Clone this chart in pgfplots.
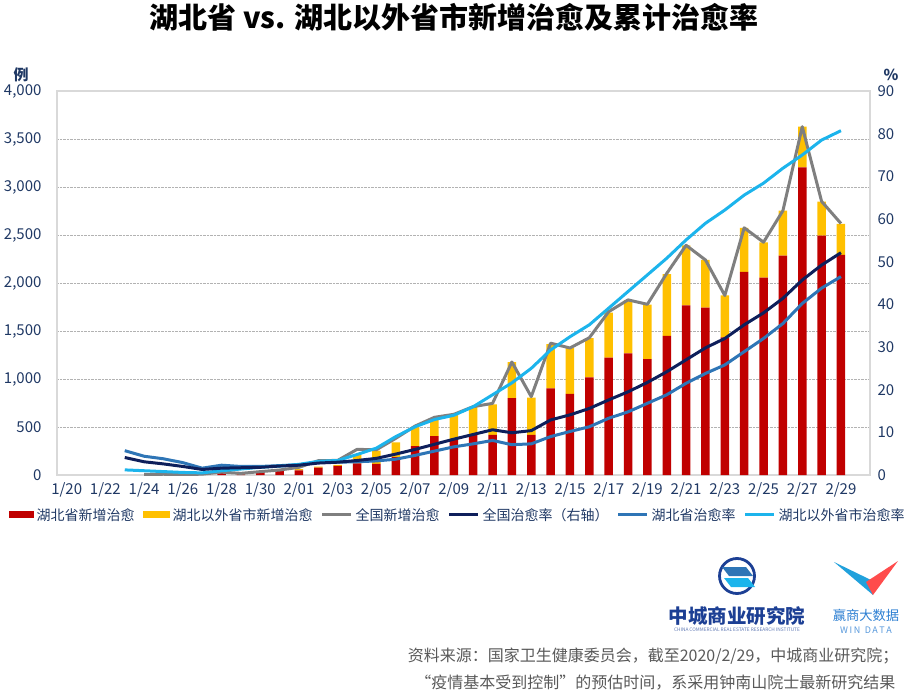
\documentclass[border=0pt]{standalone}
\usepackage{fontspec}
\setmainfont{Noto Sans CJK SC}
\usepackage{pgfplots}
\usepackage{pgfplotstable}
\pgfplotsset{compat=1.18}
\definecolor{hbred}{HTML}{C00000}
\definecolor{hbyel}{HTML}{FFC000}
\definecolor{gline}{HTML}{7F7F7F}
\definecolor{navy}{HTML}{0E1F5B}
\definecolor{hbblue}{HTML}{2E75B6}
\definecolor{ltblue}{HTML}{1CB4EC}
\definecolor{txt}{HTML}{1F3864}
\definecolor{framec}{HTML}{D9D9D9}
\definecolor{src}{HTML}{595959}
\definecolor{zcblue}{HTML}{1C3F94}
\definecolor{wsblue}{HTML}{2D7FD2}

\pgfplotstableread{
i red yel
8 22 3
9 6 5
10 28 5
11 45 8
12 47 14
13 76 12
14 96 10
15 120 90
16 115 140
17 185 155
18 302 200
19 406 175
20 368 257
21 417 290
22 417 320
23 800 377
24 417 390
25 903 460
26 844 478
27 1017 410
28 1222 470
29 1267 555
30 1208 567
31 1448 645
32 1767 626
33 1743 497
34 1434 436
35 2115 458
36 2056 366
37 2285 468
38 3205 423
39 2493 354
40 2292 323
}\bars

\pgfplotstableread{
i tot
4 4
5 8
6 3
7 9
8 30
9 17
10 35
11 52
12 80
13 149
14 152
15 267
16 263
17 382
18 510
19 601
20 632
21 712
22 746
23 1177
24 816
25 1373
26 1323
27 1430
28 1701
29 1824
30 1778
31 2100
32 2393
33 2240
34 1870
35 2575
36 2425
37 2753
38 3628
39 2850
40 2620
}\gray

\pgfplotstableread{
i nat hb out
3 4.1 5.7 1.2
4 3.1 4.4 1.0
5 2.6 3.8 0.8
6 2.0 2.9 0.6
7 1.3 1.6 0.5
8 1.6 2.3 1.0
9 1.7 2.0 1.4
10 1.8 2.0 1.8
11 2.1 2.2 2.1
12 2.3 2.4 2.5
13 2.8 3.0 3.2
14 3.0 3.0 3.4
15 3.4 3.1 4.8
16 3.9 3.3 6.3
17 4.9 3.7 9.0
18 6.0 4.6 11.3
19 7.2 5.6 13.0
20 8.4 6.6 14.0
21 9.5 7.3 16.0
22 10.6 8.1 18.8
23 9.9 7.1 21.6
24 10.4 7.3 25.0
25 12.9 9.0 29.3
26 14.1 10.2 32.4
27 15.6 11.3 35.2
28 17.6 13.3 39.1
29 19.5 14.8 43.0
30 21.7 16.8 46.9
31 24.2 18.8 50.8
32 27.0 21.5 55.1
33 29.8 23.8 59.0
34 32.0 25.8 62.1
35 35.2 28.9 65.6
36 38.0 32.0 68.4
37 41.4 35.5 71.9
38 45.7 40.2 75.0
39 49.2 43.8 78.5
40 52.1 46.5 80.7
}\rates

\newcommand{\fs}[1]{\fontsize{#1}{#1}\selectfont}

\pgfplotsset{
  common/.style={
    at={(57pt,-475pt)}, anchor=south west,
    scale only axis, width=813pt, height=384pt,
    xmin=-0.5, xmax=41.5,
    /pgf/number format/assume math mode=true,
  }
}

\begin{document}
\begin{tikzpicture}
\path[use as bounding box] (0pt,0pt) rectangle (908pt,-690pt);

% bars, left axis, grid
\begin{axis}[common,
  ymin=0, ymax=4000,
  ybar stacked, bar width=8.5pt,
  xtick={0,2,...,40},
  xticklabels={1/20,1/22,1/24,1/26,1/28,1/30,2/01,2/03,2/05,2/07,2/09,2/11,2/13,2/15,2/17,2/19,2/21,2/23,2/25,2/27,2/29},
  ytick={0,500,...,4000},
  scaled y ticks=false,
  /pgf/number format/1000 sep={,},
  ymajorgrids,
  grid style={densely dotted, color=black!30, line width=0.8pt},
  axis line style={draw=framec, line width=1.3pt},
  major tick length=0pt,
  xticklabel style={font=\fs{15pt}, color=txt, yshift=-4pt},
  yticklabel style={font=\fs{15pt}, color=txt, xshift=-12pt},
]
\addplot[fill=hbred, draw=none] table[x=i, y=red] {\bars};
\addplot[fill=hbyel, draw=none] table[x=i, y=yel] {\bars};
\end{axis}

% gray total line, left scale
\begin{axis}[common, hide axis, ymin=0, ymax=4000]
\addplot[gline, line width=3pt, line join=round] table[x=i, y=tot] {\gray};
\end{axis}

% rates, right axis
\begin{axis}[common,
  ymin=0, ymax=90,
  ytick={0,10,...,90},
  axis y line*=right, axis x line=none,
  y axis line style={draw=framec, line width=1.3pt},
  major tick length=0pt,
  yticklabel style={font=\fs{15pt}, color=txt, xshift=4pt},
  legend image code/.code={\draw[#1] (0pt,0pt) -- (29pt,0pt);},
  legend columns=6,
  legend style={at={(0.4915,-0.104)}, anchor=center, draw=none, fill=none,
    font=\fs{14pt}, text=txt, inner sep=0pt,
    nodes={inner sep=0pt},
    /tikz/every odd column/.append style={column sep=3pt},
    /tikz/every even column/.append style={column sep=8pt}},
]
\addlegendimage{fill=hbred, draw=none, legend image code/.code={\fill[hbred] (0pt,-3.5pt) rectangle (25pt,3.5pt);}}
\addlegendentry{湖北省新增治愈}
\addlegendimage{fill=hbyel, draw=none, legend image code/.code={\fill[hbyel] (0pt,-3.5pt) rectangle (27pt,3.5pt);}}
\addlegendentry{湖北以外省市新增治愈}
\addlegendimage{gline, line width=3pt}
\addlegendentry{全国新增治愈}
\addplot[hbblue, line width=3pt, line join=round, forget plot] table[x=i, y=hb] {\rates};
\addplot[ltblue, line width=3pt, line join=round, forget plot] table[x=i, y=out] {\rates};
\addplot[navy, line width=3pt, line join=round] table[x=i, y=nat] {\rates};
\addlegendentry{全国治愈率（右轴）}
\addlegendimage{hbblue, line width=3pt}
\addlegendentry{湖北省治愈率}
\addlegendimage{ltblue, line width=3pt}
\addlegendentry{湖北以外省市治愈率}
\end{axis}

% title and unit labels
\node[font=\bfseries\fs{29pt}, text=black] at (454pt,-17pt) {湖北省 vs. 湖北以外省市新增治愈及累计治愈率};
\node[font=\bfseries\fs{15pt}, text=txt] at (21pt,-75pt) {例};
\node[font=\bfseries\fs{15pt}, text=txt] at (891pt,-75pt) {\%};

% logo 1 (decorative)
\draw[zcblue, line width=2.8pt] (737pt,-576pt) circle (17.5pt);
\fill[hbblue] (722pt,-567pt) -- (746pt,-567pt) -- (753pt,-576pt) -- (729pt,-576pt) -- cycle;
\fill[ltblue] (724pt,-578pt) -- (748pt,-578pt) -- (755pt,-587pt) -- (731pt,-587pt) -- cycle;
\node[font=\bfseries\fs{19.5pt}, text=zcblue] at (737pt,-616pt) {中城商业研究院};
\node[font=\fs{4.8pt}, text=zcblue!70] at (737pt,-630pt) {CHINA COMMERCIAL REAL ESTATE RESEARCH INSTITUTE};

% logo 2 (decorative)
\fill[ltblue!70!hbblue] (834pt,-562pt) -- (871pt,-580pt) -- (873pt,-595pt) -- cycle;
\fill[red!70!white] (898pt,-561pt) -- (873pt,-595pt) -- (866pt,-582pt) -- cycle;
\node[font=\fs{13.3pt}, text=wsblue] at (866pt,-615pt) {赢商大数据};
\node[font=\fs{9pt}, text=wsblue!80] at (866pt,-630pt) {W\,I\,N\,\,\,D\,A\,T\,A};

% source
\node[anchor=east, font=\fs{16pt}, text=src] at (902pt,-656pt) {资料来源：国家卫生健康委员会，截至2020/2/29，中城商业研究院；};
\node[anchor=east, font=\fs{16pt}, text=src] at (899pt,-683pt) {“疫情基本受到控制”的预估时间，系采用钟南山院士最新研究结果};
\end{tikzpicture}
\end{document}
